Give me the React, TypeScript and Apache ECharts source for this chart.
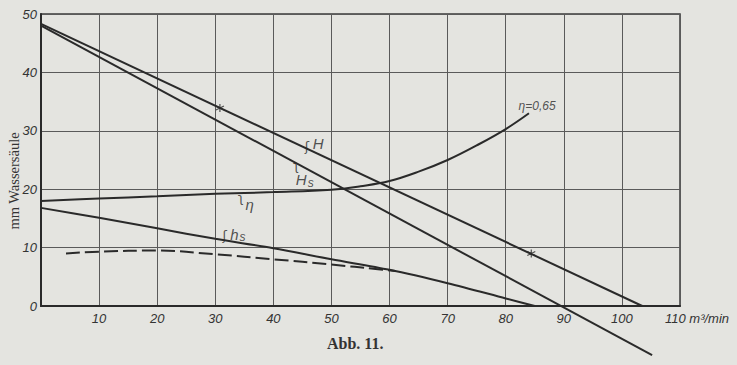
import React, { useEffect, useRef } from 'react';
import * as echarts from 'echarts';

// ---- data ----
const H_X = [0, 103.5];
const H_Y = [48.3, 0];
const HS_BIG_X = [0, 105.2];
const HS_BIG_Y = [48.0, -8.4];
const ETA_X = [0, 10, 20, 30, 40, 50, 55, 60, 65, 70, 75, 80, 84];
const ETA_Y = [18.0, 18.4, 18.8, 19.2, 19.5, 19.9, 20.5, 21.4, 23.0, 25.0, 27.5, 30.3, 33.0];
const HS_X = [0, 10, 20, 30, 40, 50, 60, 70, 80, 85];
const HS_Y = [16.8, 15.1, 13.3, 11.5, 9.9, 8.0, 6.2, 3.9, 1.3, 0];
const DASH_X = [4.3, 10, 20, 30, 40, 50, 58, 61];
const DASH_Y = [9.0, 9.3, 9.5, 8.85, 8.0, 7.1, 6.3, 6.0];
const STAR_X = [30.8, 84.4];
const STAR_Y = [33.9, 9.0];

const LABEL_TEXT = ['{m|H}', '{m|H}{s|s}', '{m|η}', '{m|h}{s|s}', '{e|η=0,65}'];
const LABEL_X = [47.7, 45.4, 35.9, 33.9, 85.4];
const LABEL_Y = [27.9, 21.6, 17.3, 12.3, 34.2];
const HOOK_TEXT = ['ʃ', 'ʅ', 'ʅ', 'ʃ'];
const HOOK_X = [45.8, 43.9, 34.4, 31.6];
const HOOK_Y = [27.3, 24.0, 18.6, 12.0];

const X_MIN = 0, X_MAX = 110, X_STEP = 10;
const Y_MIN = 0, Y_MAX = 50, Y_STEP = 10;
const X_UNIT = 'm³/min';
const Y_NAME = 'mm Wassersäule';
const TITLE = 'Abb. 11.';

const INK = '#2a2a2a';
const GRIDC = '#5a5a5a';
const BG = '#e4e4e0';
const SANS = "'Liberation Sans', 'DejaVu Sans', sans-serif";
const SERIF = "'Liberation Serif', 'DejaVu Serif', serif";

const zip = (xs: number[], ys: number[]) => xs.map((x, i) => [x, ys[i]]);

export default function App() {
  const ref = useRef<HTMLDivElement>(null);
  useEffect(() => {
    if (!ref.current) return;
    const chart = echarts.init(ref.current, undefined, { renderer: 'svg' });
    const lineBase = (data: number[][], extra: any = {}) => ({
      type: 'line',
      data,
      symbol: 'none',
      silent: true,
      lineStyle: { color: INK, width: 2 },
      ...extra,
    });
    chart.setOption({
      animation: false,
      backgroundColor: BG,
      title: {
        text: TITLE,
        left: 322,
        top: 330,
        textStyle: { fontFamily: SERIF, fontWeight: 'bold', fontSize: 16, color: '#333' },
      },
      graphic: [
        {
          type: 'text',
          x: 14,
          y: 181,
          rotation: Math.PI / 2,
          style: {
            text: Y_NAME,
            fontFamily: SERIF,
            fontSize: 14.5,
            fill: '#333',
            align: 'center',
            verticalAlign: 'middle',
          },
        },
      ],
      grid: {
        left: 41,
        right: 57,
        top: 14,
        bottom: 59,
        show: true,
        borderColor: '#3a3a3a',
        borderWidth: 1.5,
      },
      xAxis: {
        type: 'value',
        min: X_MIN,
        max: X_MAX,
        interval: X_STEP,
        axisLine: { show: true, lineStyle: { color: INK, width: 2 } },
        axisTick: { show: false },
        splitLine: { show: true, lineStyle: { color: GRIDC, width: 1 } },
        axisLabel: {
          margin: 6,
          color: '#333',
          fontFamily: SANS,
          fontStyle: 'italic',
          fontSize: 13,
          formatter: (v: number) => (v === X_MIN ? '' : v === X_MAX ? `{e|${v} ${X_UNIT}}` : `${v}`),
          rich: {
            e: { padding: [0, 0, 0, 34], fontFamily: SANS, fontStyle: 'italic', fontSize: 13, color: '#333' },
          },
        },
      },
      yAxis: {
        type: 'value',
        min: Y_MIN,
        max: Y_MAX,
        interval: Y_STEP,
        axisLine: { show: true, lineStyle: { color: INK, width: 2 } },
        axisTick: { show: false },
        splitLine: { show: true, lineStyle: { color: GRIDC, width: 1 } },
        axisLabel: {
          margin: 4,
          color: '#333',
          fontFamily: SANS,
          fontStyle: 'italic',
          fontSize: 13,
        },
      },
      series: [
        lineBase(zip(H_X, H_Y)),
        lineBase(zip(HS_BIG_X, HS_BIG_Y), { clip: false }),
        lineBase(zip(ETA_X, ETA_Y), { smooth: 0.4 }),
        lineBase(zip(HS_X, HS_Y), { smooth: 0.3 }),
        lineBase(zip(DASH_X, DASH_Y), {
          smooth: 0.4,
          lineStyle: { color: INK, width: 2, type: [14, 5] },
        }),
        {
          type: 'scatter',
          data: zip(STAR_X, STAR_Y),
          symbol: 'path://M5,0L5,10M0.7,2.5L9.3,7.5M0.7,7.5L9.3,2.5',
          symbolSize: 8,
          silent: true,
          itemStyle: { color: 'none', borderColor: INK, borderWidth: 1.2 },
        },
        {
          type: 'scatter',
          data: LABEL_TEXT.map((t, i) => ({ value: [LABEL_X[i], LABEL_Y[i]], name: t })),
          symbolSize: 1,
          silent: true,
          itemStyle: { color: 'rgba(0,0,0,0)' },
          label: {
            show: true,
            position: 'inside',
            formatter: (p: any) => p.name,
            rich: {
              m: { fontFamily: SANS, fontStyle: 'italic', fontSize: 15, color: INK, lineHeight: 18 },
              s: { fontFamily: SANS, fontStyle: 'italic', fontSize: 12, color: INK, verticalAlign: 'bottom', padding: [6, 0, 0, 1] },
              e: { fontFamily: SANS, fontStyle: 'italic', fontSize: 12, color: INK },
            },
          },
        },
        {
          type: 'scatter',
          data: HOOK_TEXT.map((t, i) => ({ value: [HOOK_X[i], HOOK_Y[i]], name: t })),
          symbolSize: 1,
          silent: true,
          itemStyle: { color: 'rgba(0,0,0,0)' },
          label: {
            show: true,
            position: 'inside',
            formatter: (p: any) => p.name,
            fontFamily: "'DejaVu Sans', sans-serif",
            fontSize: 13,
            color: INK,
          },
        },
      ],
    });
    return () => chart.dispose();
  }, []);
  return (
    <div
      ref={ref}
      style={{ position: 'fixed', left: 0, top: 0, width: 737, height: 365 }}
    />
  );
}
